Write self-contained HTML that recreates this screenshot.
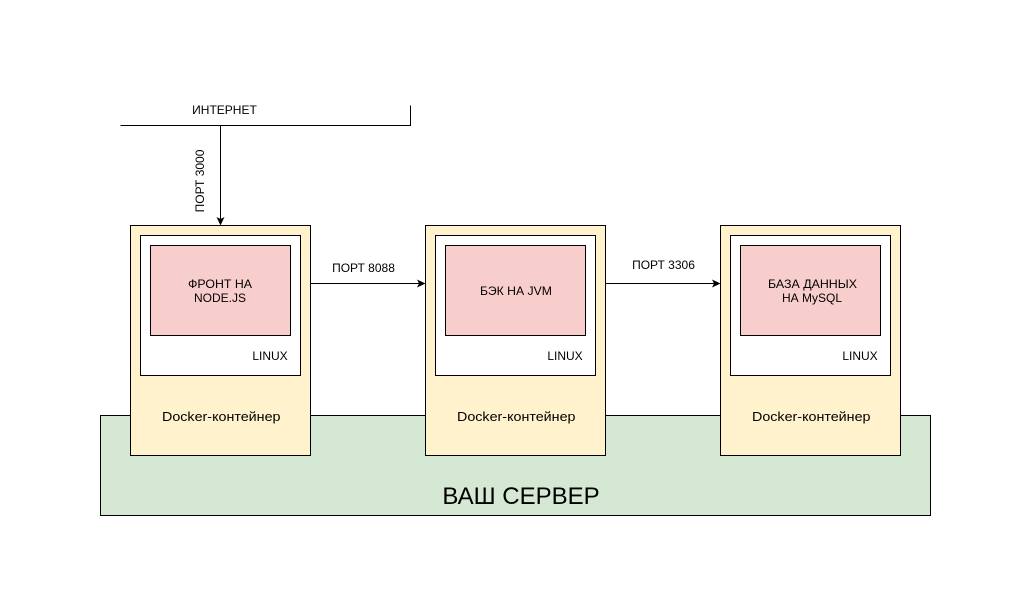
<!DOCTYPE html>
<html>
<head>
<meta charset="utf-8">
<style>
html,body{margin:0;padding:0;background:#fff;}
svg{display:block;}
text{font-family:"Liberation Sans",Arial,sans-serif;fill:#000;}
</style>
</head>
<body>
<svg width="1031" height="616" viewBox="0 0 1031 616" xmlns="http://www.w3.org/2000/svg">
<rect x="0" y="0" width="1031" height="616" fill="#fff"/>
<rect x="100.500" y="415.500" width="830" height="100" fill="#d5e8d4" stroke="#000"/>
<text x="521" y="504" font-size="24" text-anchor="middle">ВАШ СЕРВЕР</text>

<path d="M120.500 125.500H410.500V105.500" fill="none" stroke="#000"/>
<text x="224.500" y="114" font-size="12" text-anchor="middle">ИНТЕРНЕТ</text>
<path d="M220.500 125.500V219" fill="none" stroke="#000"/>
<text transform="translate(204 181) rotate(-90)" font-size="12" text-anchor="middle">ПОРТ 3000</text>

<g>
<rect x="130.500" y="225.500" width="180" height="230" fill="#fff2cc" stroke="#000"/>
<rect x="140.500" y="235.500" width="160" height="140" fill="#fff" stroke="#000"/>
<rect x="150.500" y="245.500" width="140" height="90" fill="#f8cecc" stroke="#000"/>
<text x="188" y="288" font-size="12" textLength="64" lengthAdjust="spacingAndGlyphs">ФРОНТ НА</text>
<text x="220" y="302" font-size="12" text-anchor="middle">NODE.JS</text>
<text x="270" y="360" font-size="12" text-anchor="middle">LINUX</text>
<text x="162" y="421" font-size="13" textLength="118.500" lengthAdjust="spacingAndGlyphs">Docker-контейнер</text>
</g>

<g>
<rect x="425.500" y="225.500" width="180" height="230" fill="#fff2cc" stroke="#000"/>
<rect x="435.500" y="235.500" width="160" height="140" fill="#fff" stroke="#000"/>
<rect x="445.500" y="245.500" width="140" height="90" fill="#f8cecc" stroke="#000"/>
<text x="480" y="295" font-size="12" textLength="72" lengthAdjust="spacingAndGlyphs">БЭК НА JVM</text>
<text x="565" y="360" font-size="12" text-anchor="middle">LINUX</text>
<text x="457" y="421" font-size="13" textLength="118.500" lengthAdjust="spacingAndGlyphs">Docker-контейнер</text>
</g>

<g>
<rect x="720.500" y="225.500" width="180" height="230" fill="#fff2cc" stroke="#000"/>
<rect x="730.500" y="235.500" width="160" height="140" fill="#fff" stroke="#000"/>
<rect x="740.500" y="245.500" width="140" height="90" fill="#f8cecc" stroke="#000"/>
<text x="768" y="288" font-size="12" textLength="89" lengthAdjust="spacingAndGlyphs">БАЗА ДАННЫХ</text>
<text x="812" y="302" font-size="12" text-anchor="middle">НА MySQL</text>
<text x="860" y="360" font-size="12" text-anchor="middle">LINUX</text>
<text x="752" y="421" font-size="13" textLength="118.500" lengthAdjust="spacingAndGlyphs">Docker-контейнер</text>
</g>

<path d="M310.500 283.500H419" fill="none" stroke="#000"/>
<text x="363.500" y="272" font-size="12" text-anchor="middle">ПОРТ 8088</text>

<path d="M605.500 283.500H714" fill="none" stroke="#000"/>
<text x="663.500" y="269" font-size="12" text-anchor="middle">ПОРТ 3306</text>

<path d="M220.500 225.500L216.500 217L220.500 219L224.500 217Z" fill="#000"/>
<path d="M425.500 283.500L417 279.500L419 283.500L417 287.500Z" fill="#000"/>
<path d="M720.500 283.500L712 279.500L714 283.500L712 287.500Z" fill="#000"/>
</svg>
</body>
</html>
